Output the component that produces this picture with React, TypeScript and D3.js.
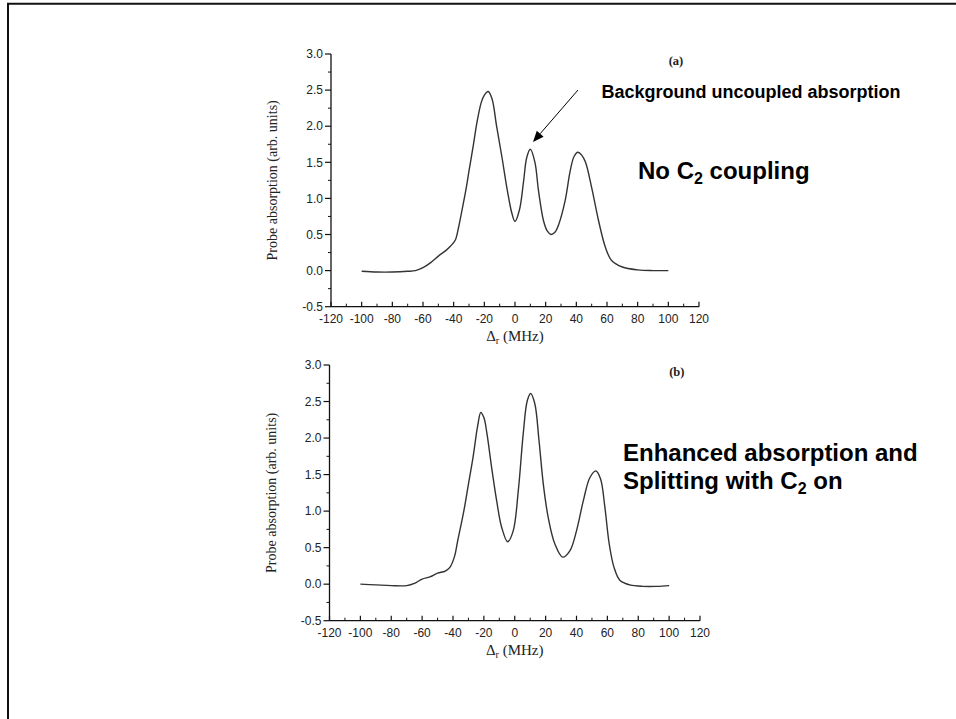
import React from 'react';
import * as d3 from 'd3';

// Probe detuning (MHz) and absorption, panel (a): C2 coupling off
const detuningA = [-100, -90, -80, -70, -65, -60, -55, -50, -45, -42, -39, -37, -35, -32, -30, -27, -25, -22, -20, -17.5, -15, -12, -8.5, -5, -2, 0, 3, 5.5, 7.7, 10, 13, 15.3, 18.6, 21, 23.5, 26, 28.5, 32.7, 36, 38.5, 41, 43.5, 46, 50, 54.5, 59, 63, 70, 80, 90, 100];
const absorptionA = [-0.01, -0.02, -0.02, -0.01, 0.0, 0.04, 0.11, 0.2, 0.28, 0.34, 0.42, 0.58, 0.79, 1.12, 1.38, 1.76, 2.03, 2.33, 2.43, 2.48, 2.38, 2.0, 1.57, 1.11, 0.79, 0.68, 0.85, 1.22, 1.57, 1.68, 1.5, 1.11, 0.69, 0.55, 0.5, 0.53, 0.64, 0.97, 1.38, 1.58, 1.64, 1.6, 1.5, 1.15, 0.69, 0.32, 0.14, 0.05, 0.01, 0.0, 0.0];

// Panel (b): C2 coupling on
const detuningB = [-100, -90, -80, -70, -65, -60, -55, -50, -45, -42, -39, -37, -33, -30, -27, -24, -22, -20, -18, -15, -11.7, -8.5, -4.6, -1, 2.3, 5.5, 8.1, 10.3, 13, 15.7, 18.5, 21.7, 26, 31, 35.8, 40, 44.4, 48.7, 52.6, 55.6, 58.4, 61.2, 64.3, 68.2, 74.6, 83, 92, 100];
const absorptionB = [0.0, -0.01, -0.02, -0.02, 0.01, 0.07, 0.1, 0.15, 0.18, 0.23, 0.38, 0.59, 1.0, 1.37, 1.74, 2.17, 2.35, 2.28, 2.06, 1.6, 1.14, 0.78, 0.58, 0.73, 1.28, 2.06, 2.51, 2.61, 2.47, 1.97, 1.37, 0.91, 0.55, 0.37, 0.46, 0.73, 1.14, 1.46, 1.55, 1.44, 1.05, 0.55, 0.23, 0.05, -0.01, -0.03, -0.03, -0.02];

const xTicks = [-120, -100, -80, -60, -40, -20, 0, 20, 40, 60, 80, 100, 120];
const yTicks = [-0.5, 0, 0.5, 1, 1.5, 2, 2.5, 3];
const yTickLabels = ['-0.5', '0.0', '0.5', '1.0', '1.5', '2.0', '2.5', '3.0'];

const SANS = '"Liberation Sans", Arial, sans-serif';
const SERIF = '"Liberation Serif", "Times New Roman", serif';

type PanelProps = {
  xs: number[];
  ys: number[];
  left: number;
  right: number;
  top: number;
  bottom: number;
  tag: string;
};

function Panel({ xs, ys, left, right, top, bottom, tag }: PanelProps) {
  const x = d3.scaleLinear().domain([-120, 120]).range([left, right]);
  const y = d3.scaleLinear().domain([-0.5, 3]).range([bottom, top]);
  const line = d3
    .line<number>()
    .x((_, i) => x(xs[i]))
    .y((d) => y(d))
    .curve(d3.curveCatmullRom.alpha(0.5));
  const xMinor = d3.range(-110, 120, 20);
  const yMinor = d3.range(-0.25, 3, 0.5);
  const ax = '#111';
  return (
    <g>
      {/* y axis */}
      <line x1={left} x2={left} y1={y(-0.5)} y2={y(3)} stroke={ax} strokeWidth={1.3} />
      {yTicks.map((t, i) => (
        <g key={'y' + t}>
          <line x1={left - 6} x2={left} y1={y(t)} y2={y(t)} stroke={ax} strokeWidth={1.2} />
          <text x={left - 8} y={y(t) + 4.2} textAnchor="end" fontSize={12} fontFamily={SANS} fill="#222">
            {yTickLabels[i]}
          </text>
        </g>
      ))}
      {yMinor.map((t) => (
        <line key={'ym' + t} x1={left - 3} x2={left} y1={y(t)} y2={y(t)} stroke={ax} strokeWidth={1} />
      ))}
      {/* x axis */}
      <line x1={x(-120)} x2={x(120)} y1={bottom} y2={bottom} stroke={ax} strokeWidth={1.3} />
      {xTicks.map((t) => (
        <g key={'x' + t}>
          <line x1={x(t)} x2={x(t)} y1={bottom} y2={bottom - 5} stroke={ax} strokeWidth={1.2} />
          <text x={x(t)} y={bottom + 16.5} textAnchor="middle" fontSize={12} fontFamily={SANS} fill="#222">
            {t}
          </text>
        </g>
      ))}
      {xMinor.map((t) => (
        <line key={'xm' + t} x1={x(t)} x2={x(t)} y1={bottom} y2={bottom - 3} stroke={ax} strokeWidth={1} />
      ))}
      {/* axis titles */}
      <text
        transform={`translate(${left - 54},${(top + bottom) / 2}) rotate(-90)`}
        textAnchor="middle"
        fontSize={14}
        fontFamily={SERIF}
        fill="#222"
      >
        Probe absorption (arb. units)
      </text>
      <text x={x(0)} y={bottom + 34.5} textAnchor="middle" fontSize={15} fontFamily={SERIF} fill="#222">
        Δ<tspan fontSize={10} dy={3}>r</tspan>
        <tspan dy={-3}> (MHz)</tspan>
      </text>
      <text x={x(105)} y={top + 11} textAnchor="middle" fontSize={12.5} fontFamily={SERIF} fontWeight="bold" fill="#222">
        {tag}
      </text>
      {/* spectrum */}
      <path d={line(ys) ?? ''} fill="none" stroke="#333" strokeWidth={1.4} strokeLinejoin="round" />
    </g>
  );
}

function Arrow({ x1, y1, x2, y2 }: { x1: number; y1: number; x2: number; y2: number }) {
  const dx = x2 - x1;
  const dy = y2 - y1;
  const len = Math.hypot(dx, dy);
  const ux = dx / len;
  const uy = dy / len;
  const head = 11;
  const half = 4.5;
  const bx = x2 - ux * head;
  const by = y2 - uy * head;
  const pts = [
    [x2, y2],
    [bx - uy * half, by + ux * half],
    [bx + uy * half, by - ux * half],
  ]
    .map((p) => p.join(','))
    .join(' ');
  return (
    <g>
      <line x1={x1} y1={y1} x2={bx} y2={by} stroke="#000" strokeWidth={1} />
      <polygon points={pts} fill="#000" />
    </g>
  );
}

export default function App() {
  return (
    <svg
      width={956}
      height={719}
      viewBox="0 0 956 719"
      style={{ position: 'absolute', left: 0, top: 0, background: '#fff' }}
    >
      <rect x={0} y={0} width={956} height={719} fill="#fff" />
      {/* slide frame */}
      <path d="M8,719 V3.7 H956" fill="none" stroke="#111" strokeWidth={2} />

      <Panel xs={detuningA} ys={absorptionA} left={331} right={699} top={54} bottom={306.7} tag="(a)" />
      <Panel xs={detuningB} ys={absorptionB} left={329.5} right={700} top={365} bottom={620.7} tag="(b)" />

      <text x={601.5} y={98} fontSize={18} fontWeight="bold" fontFamily={SANS} fill="#000">
        Background uncoupled absorption
      </text>
      <Arrow x1={578} y1={90} x2={533} y2={142} />

      <text x={638} y={179} fontSize={24} fontWeight="bold" fontFamily={SANS} fill="#000">
        No C<tspan fontSize={16} dy={5}>2</tspan>
        <tspan dy={-5}> coupling</tspan>
      </text>

      <text x={623} y={461} fontSize={24} fontWeight="bold" fontFamily={SANS} fill="#000">
        Enhanced absorption and
      </text>
      <text x={623} y={489} fontSize={24} fontWeight="bold" fontFamily={SANS} fill="#000">
        Splitting with C<tspan fontSize={16} dy={5}>2</tspan>
        <tspan dy={-5}> on</tspan>
      </text>
    </svg>
  );
}
